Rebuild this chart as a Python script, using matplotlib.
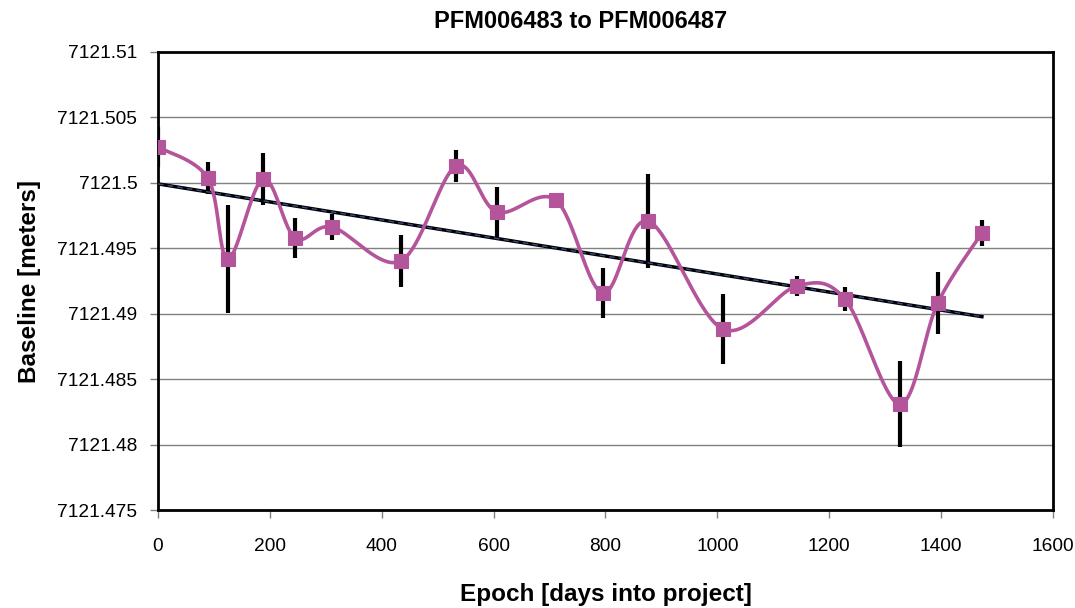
import numpy as np
import matplotlib
matplotlib.use("Agg")
import matplotlib.pyplot as plt

# epoch (days into project), baseline (m) and error bar half-widths
epoch = [0, 89, 125, 188, 245, 311, 434, 533, 606, 711, 795, 876, 1010, 1142, 1228, 1326, 1394, 1473]
baseline = [7121.50274, 7121.50037, 7121.49418, 7121.50030, 7121.49579, 7121.49663,
            7121.49403, 7121.50129, 7121.49777, 7121.49869, 7121.49158, 7121.49709,
            7121.48883, 7121.49212, 7121.49112, 7121.48310, 7121.49082, 7121.49617]
err = [0.0015, 0.0012, 0.0041, 0.0020, 0.0015, 0.0010, 0.0020, 0.0012, 0.0019,
       0.0004, 0.0019, 0.0036, 0.0027, 0.0008, 0.0009, 0.0033, 0.0024, 0.0010]

TITLE = "PFM006483 to PFM006487"
XLABEL = "Epoch [days into project]"
YLABEL = "Baseline [meters]"
PINK = "#B4559B"

plt.rcParams['font.family'] = ['Liberation Sans', 'DejaVu Sans']


def smooth_curve(xs, ys, n=40):
    # Excel-like smoothed line: cubic bezier through points (catmull-rom tangents)
    xs = np.asarray(xs, float)
    ys = np.asarray(ys, float)
    px = np.concatenate([[xs[0]], xs, [xs[-1]]])
    py = np.concatenate([[ys[0]], ys, [ys[-1]]])
    out_x, out_y = [], []
    t = np.linspace(0, 1, n)
    for i in range(1, len(px) - 2):
        p0 = np.array([px[i], py[i]])
        p3 = np.array([px[i + 1], py[i + 1]])
        c1 = p0 + (p3 - np.array([px[i - 1], py[i - 1]])) / 6.0
        c2 = p3 - (np.array([px[i + 2], py[i + 2]]) - p0) / 6.0
        b = ((1 - t) ** 3)[:, None] * p0 + (3 * (1 - t) ** 2 * t)[:, None] * c1 \
            + (3 * (1 - t) * t ** 2)[:, None] * c2 + (t ** 3)[:, None] * p3
        out_x.extend(b[:, 0])
        out_y.extend(b[:, 1])
    return np.array(out_x), np.array(out_y)


fig = plt.figure(figsize=(10.75, 6.08), dpi=100)
ax = fig.add_axes([0.147, 0.161, 0.8325, 0.7535])

# gridlines
for v in np.arange(7121.475, 7121.5101, 0.005)[1:-1]:
    ax.axhline(v, color="#808080", lw=1.0, zorder=1)

# error bars
ax.errorbar(epoch, baseline, yerr=err, fmt="none", ecolor="black", elinewidth=3,
            capsize=0, zorder=3)

# trend line (least squares)
coef = np.polyfit(epoch, baseline, 1)
tx = np.array([epoch[0], epoch[-1]])
ty = np.polyval(coef, tx)
ax.plot(tx, ty, color="black", lw=2.5, zorder=4)
ax.plot(tx, ty, color="#3A4A8A", lw=1.0, ls=(0, (4, 3)), zorder=4)

# smoothed series line + markers
sx, sy = smooth_curve(epoch, baseline)
ax.plot(sx, sy, color=PINK, lw=2.6, zorder=5)
ax.plot(epoch, baseline, ls="none", marker="s", ms=10, mew=0.8, color=PINK, zorder=6)

ax.set_xlim(0, 1600)
ax.set_ylim(7121.475, 7121.51)
ax.set_xticks(np.arange(0, 1601, 200))
ax.set_yticks(np.arange(7121.475, 7121.5101, 0.005))
ax.set_yticklabels(["7121.475", "7121.48", "7121.485", "7121.49", "7121.495",
                    "7121.5", "7121.505", "7121.51"])

for s in ax.spines.values():
    s.set_color("black")
    s.set_linewidth(2)
ax.tick_params(direction="out", length=6, width=1, color="#808080", labelsize=13.8)
ax.tick_params(axis="y", pad=9)
ax.tick_params(axis="x", pad=14)

fig.text(0.54, 0.965, TITLE, fontsize=17, fontweight="bold", ha="center", va="center")
ax.set_xlabel(XLABEL, fontsize=17.5, fontweight="bold", labelpad=20)
ax.set_ylabel(YLABEL, fontsize=17.5, fontweight="bold", labelpad=12)

fig.savefig("out.png", dpi=100)
